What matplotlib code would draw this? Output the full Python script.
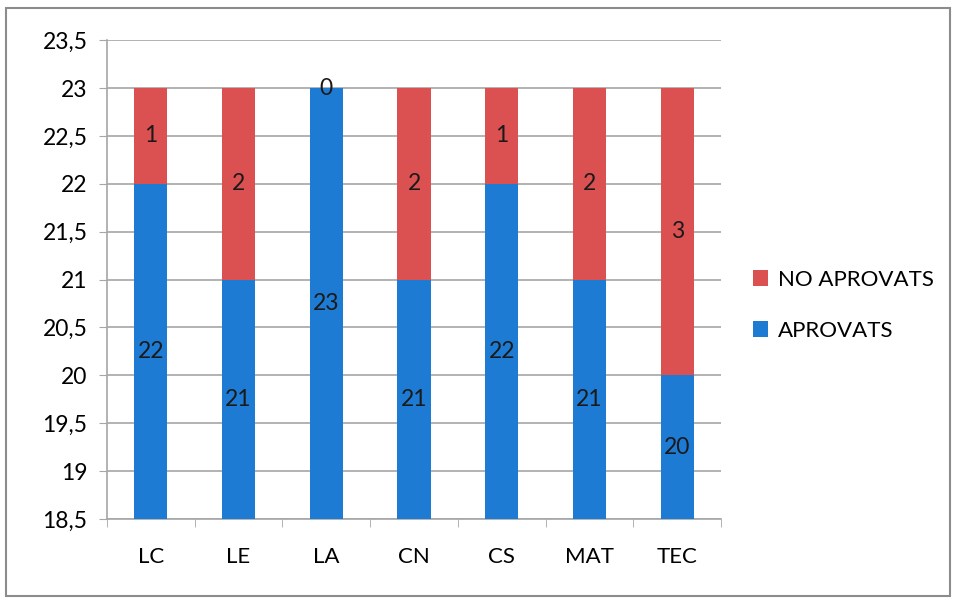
import matplotlib
matplotlib.use("Agg")
import matplotlib.pyplot as plt
from matplotlib.patches import Rectangle
from matplotlib.ticker import FuncFormatter
import numpy as np

plt.rcParams["font.family"] = ["Lato", "DejaVu Sans"]

categories = ["LC", "LE", "LA", "CN", "CS", "MAT", "TEC"]
aprovats = [22, 21, 23, 21, 22, 21, 20]
no_aprovats = [1, 2, 0, 2, 1, 2, 3]
y_ticks = [18.5, 19, 19.5, 20, 20.5, 21, 21.5, 22, 22.5, 23, 23.5]

BLUE = "#1E7BD3"
RED = "#DB5050"
GRID = "#A6A6A6"

fig = plt.figure(figsize=(9.54, 6.0), dpi=100)
ax = fig.add_axes([0.112, 0.135, 0.644, 0.798])

x = np.arange(len(categories))
ymin, ymax = y_ticks[0], y_ticks[-1]
bw = 0.38
ax.bar(x, aprovats, width=bw, color=BLUE, label="APROVATS", zorder=3)
ax.bar(x, no_aprovats, width=bw, bottom=aprovats, color=RED,
       label="NO APROVATS", zorder=3)

for i, (a, n) in enumerate(zip(aprovats, no_aprovats)):
    ax.text(i, (ymin + a) / 2, str(a), ha="center", va="center",
            fontsize=16.5, color="#1a1a1a", zorder=4)
    ax.text(i, a + n / 2, str(n), ha="center", va="center",
            fontsize=16.5, color="#1a1a1a", zorder=4)

ax.set_xlim(-0.5, len(categories) - 0.5)
ax.set_ylim(ymin, ymax)
ax.set_yticks(y_ticks)
ax.yaxis.set_major_formatter(FuncFormatter(lambda v, p: f"{v:g}".replace(".", ",")))
ax.set_xticks(x)
ax.set_xticklabels(categories)
ax.set_xticks(np.arange(-0.5, len(categories)), minor=True)
ax.tick_params(axis="x", which="major", length=0, pad=20, labelsize=16)
ax.tick_params(axis="x", which="minor", length=6, color=GRID, direction="out")
ax.tick_params(axis="y", length=6, color=GRID, direction="out", pad=8, labelsize=16.5)

ax.grid(axis="y", color=GRID, lw=1.2, zorder=0)
for s in ["top", "right"]:
    ax.spines[s].set_visible(False)
for s in ["left", "bottom"]:
    ax.spines[s].set_color(GRID)
    ax.spines[s].set_linewidth(1.2)

handles, labels = ax.get_legend_handles_labels()
fig.legend(handles[::-1], labels[::-1], loc="center left",
           bbox_to_anchor=(0.768, 0.491), frameon=False, fontsize=16,
           handlelength=0.7, handleheight=0.7, handletextpad=0.45,
           labelspacing=1.4)

fig.patches.append(Rectangle((0.006, 0.007), 0.99, 0.98, transform=fig.transFigure,
                             fill=False, edgecolor="#8c8c8c", lw=1.5))

fig.savefig("out.png", dpi=100)
